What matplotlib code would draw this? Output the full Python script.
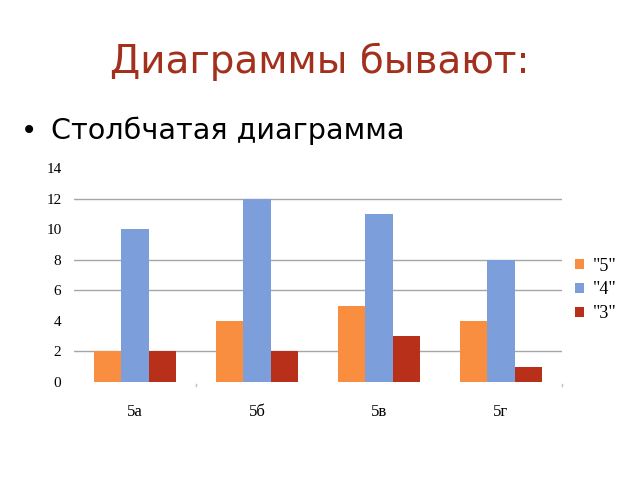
import matplotlib
matplotlib.use('Agg')
import matplotlib.pyplot as plt
import numpy as np

# Data
classes = ['5а', '5б', '5в', '5г']
series_names = ['"5"', '"4"', '"3"']
grade5 = [2, 4, 5, 4]
grade4 = [10, 12, 11, 8]
grade3 = [2, 2, 3, 1]
y_ticks = [0, 2, 4, 6, 8, 10, 12, 14]
grid_levels = [2, 6, 8, 12]   # only these gridlines show on the slide

COLORS = ('#F98E41', '#7C9FDC', '#B8301A')
TITLE_COLOR = '#A2301C'

fig = plt.figure(figsize=(6.4, 4.8), dpi=100)
fig.patch.set_facecolor('white')

fig.text(0.5, 0.872, 'Диаграммы бывают:', ha='center', va='center',
         fontsize=28, color=TITLE_COLOR, family='DejaVu Sans')
fig.text(0.045, 0.728, '•', ha='center', va='center', fontsize=20, color='black')
fig.text(0.080, 0.728, 'Столбчатая диаграмма', ha='left', va='center',
         fontsize=20.6, color='black', family='DejaVu Sans')

# plot area: x 74..562 px, y 0 -> 382 px, 14 -> 168 px
ax = fig.add_axes([74 / 640, 1 - 382 / 480, (562 - 74) / 640, (382 - 168) / 480])
x = np.arange(len(classes))
w = 0.222
for i, (vals, name) in enumerate(zip((grade5, grade4, grade3), series_names)):
    ax.bar(x + (i - 1) * w, vals, width=w, color=COLORS[i], label=name, zorder=2)

ax.set_xlim(-0.5, len(classes) - 0.5)
ax.set_ylim(0, 14)
for lvl in grid_levels:
    ax.axhline(lvl, color='#A6A6A6', lw=1.0, zorder=1)

ax.set_yticks(y_ticks)
ax.set_yticklabels([str(t) for t in y_ticks], family='Liberation Serif', fontsize=11)
ax.set_xticks(x)
ax.set_xticklabels(classes, family='Liberation Serif', fontsize=12)
ax.tick_params(axis='y', length=0, pad=9)
ax.tick_params(axis='x', length=0, pad=16)
for side in ax.spines.values():
    side.set_visible(False)
# small boundary ticks below the axis, as on the slide
for bx in (0.5, 3.5):
    ax.plot([bx, bx], [-0.25, -0.1], color='#C0C0C0', lw=1, clip_on=False)

handles, labels = ax.get_legend_handles_labels()
leg = fig.legend(handles, labels, loc='center left', bbox_to_anchor=(559 / 640, 1 - 290 / 480),
                 frameon=False, handlelength=0.5, handleheight=0.5, handletextpad=0.5,
                 labelspacing=0.38, prop={'family': 'Liberation Serif', 'size': 13})

fig.savefig('out.png', dpi=100)
